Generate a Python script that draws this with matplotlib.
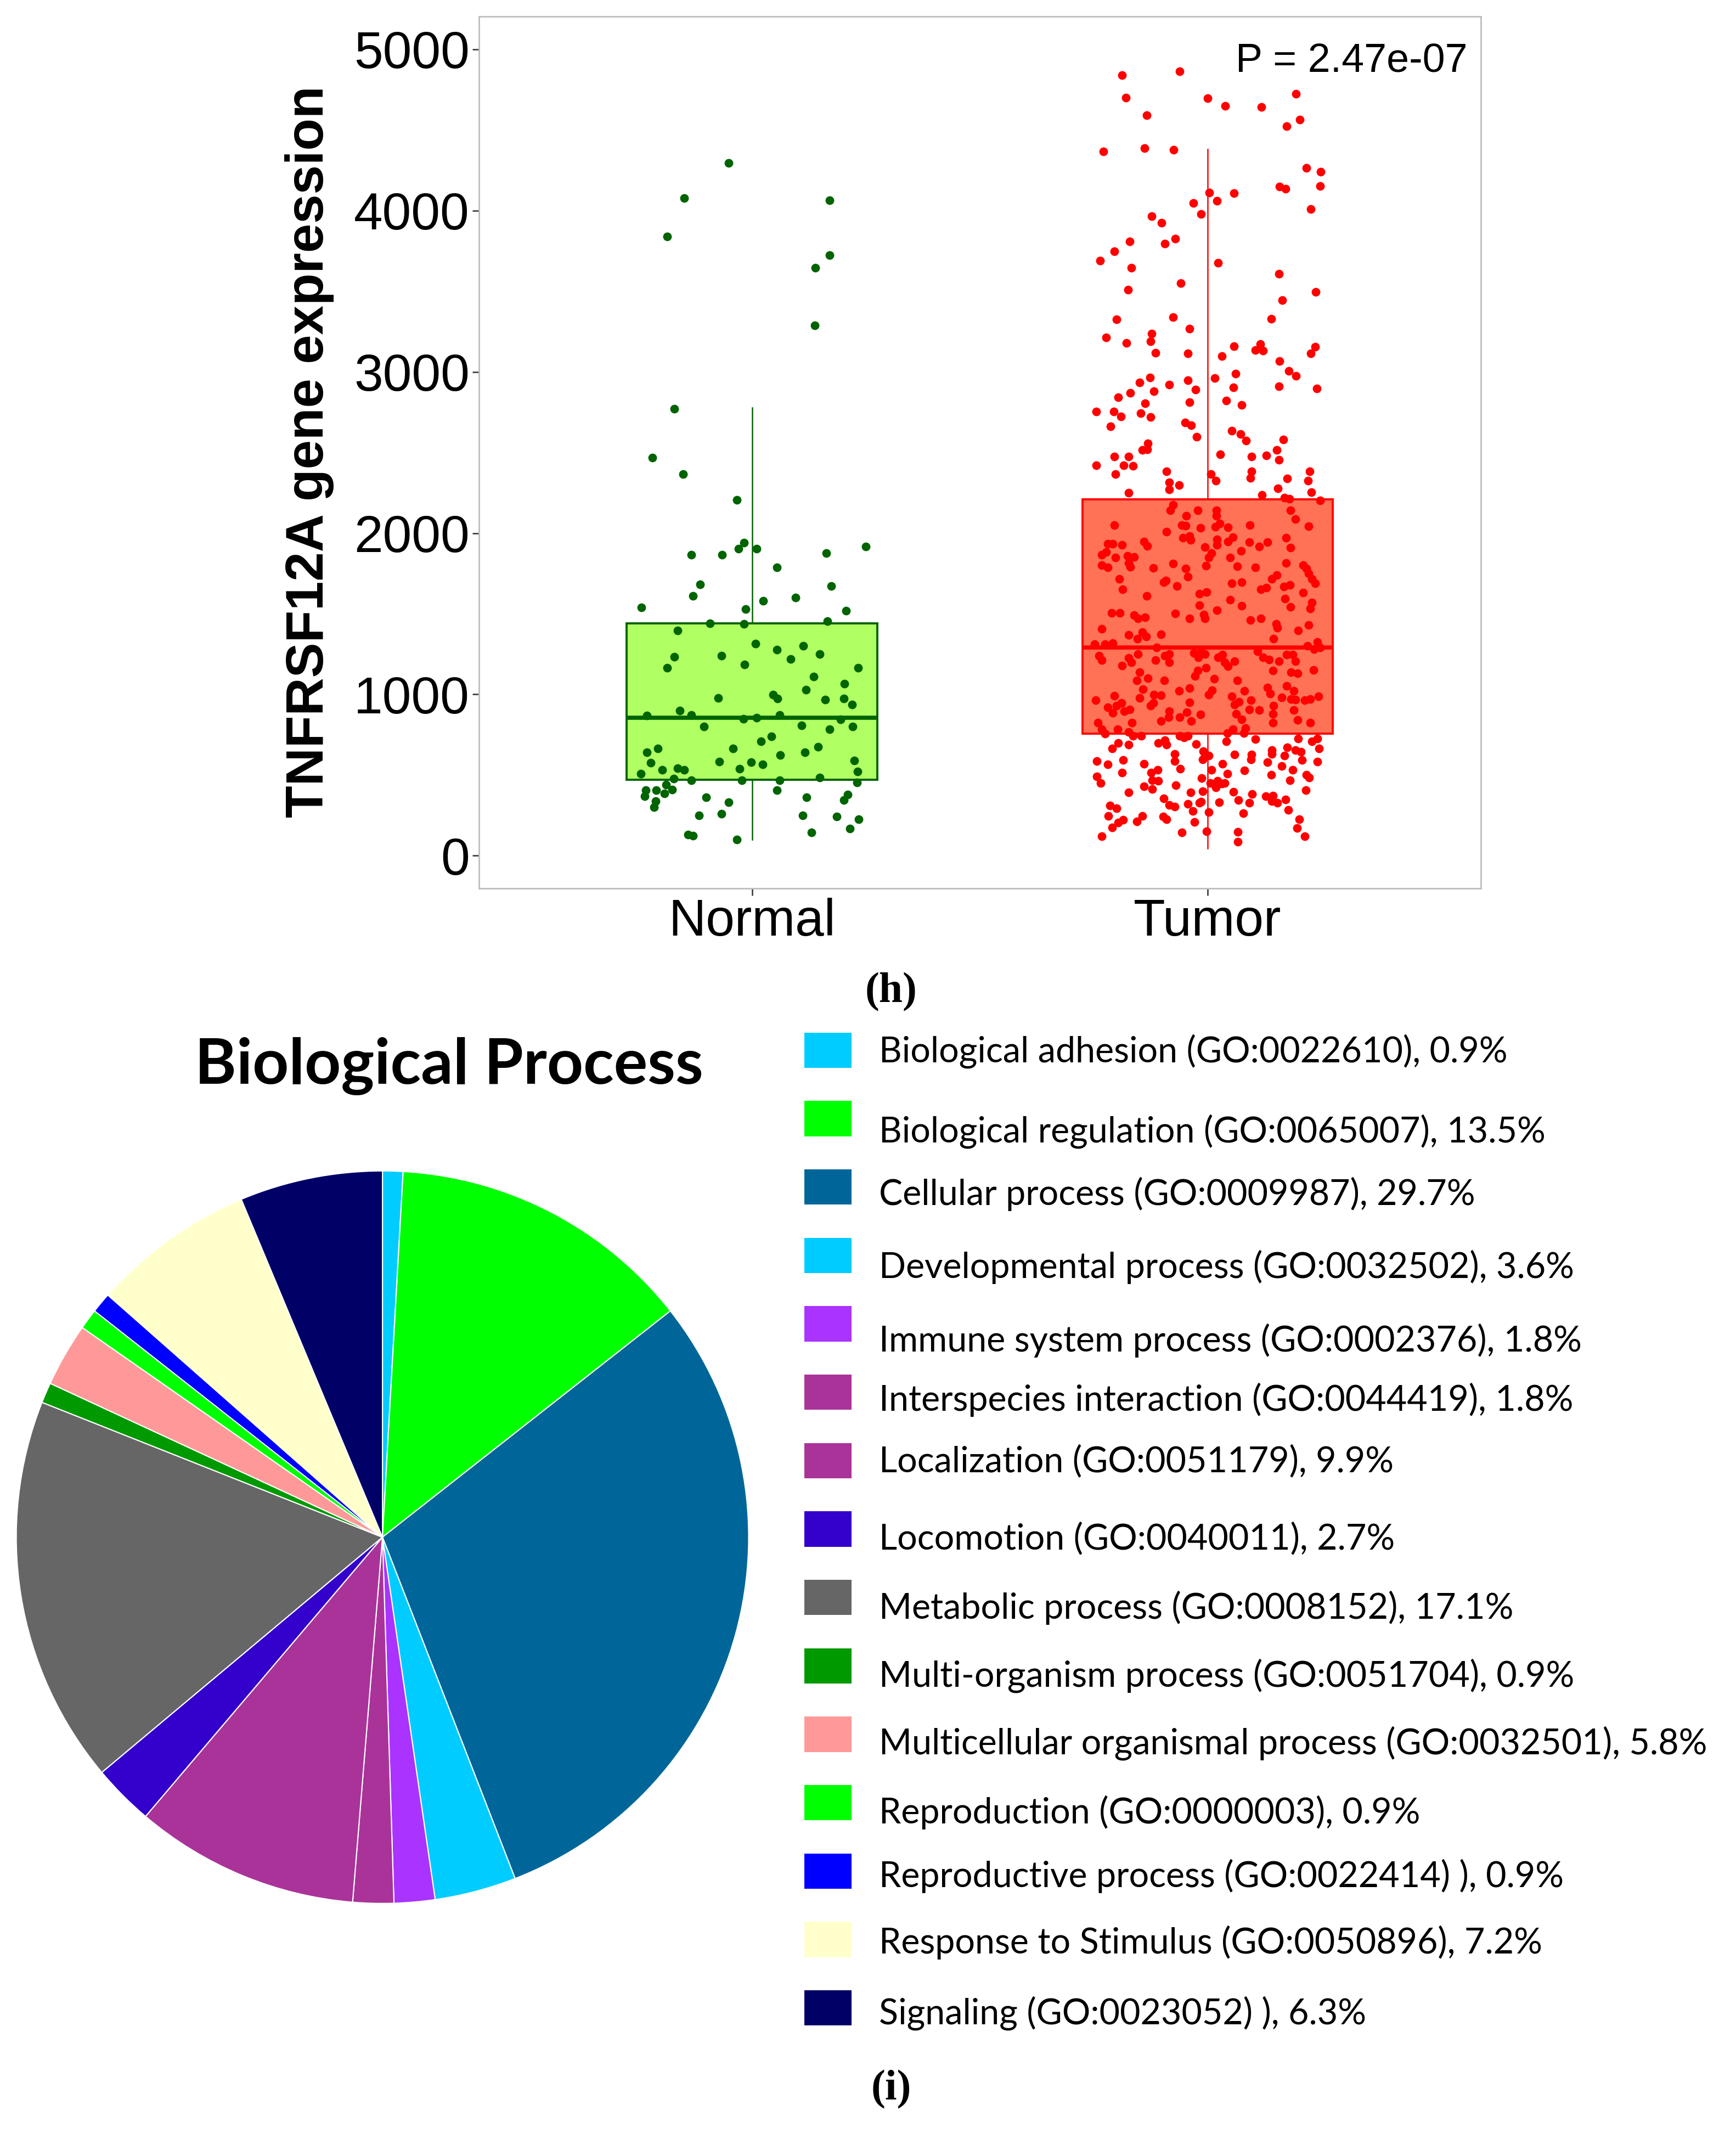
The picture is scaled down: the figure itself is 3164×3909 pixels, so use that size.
import numpy as np
import matplotlib.pyplot as plt
from matplotlib.patches import Rectangle

plt.rcParams['font.family'] = ['Liberation Sans', 'DejaVu Sans']

# ---------------- panel (h): boxplot + jittered points ----------------
groups = ["Normal", "Tumor"]
box_q1 = [469, 756]
box_med = [855, 1290]
box_q3 = [1441, 2210]
box_lo = [101, 45]
box_hi = [2778, 4380]
p_label = "P = 2.47e-07"

normal_y = [4294, 4076, 4065, 3841, 3722, 3647, 3289, 2772, 2468, 2367,
            2205, 1939, 1904, 1902, 1867, 1865, 1876, 1917, 1789, 1682,
            1670, 1611, 1579, 1601, 1540, 1529, 1517, 1441, 1438, 1453,
            1396, 1316, 1276, 1302, 1233, 1240, 1220, 1249, 1164, 1184,
            1165, 1109, 1066, 1028, 976, 998, 973, 966, 973, 936,
            899, 870, 872, 847, 856, 872, 846, 800, 807, 784,
            800, 738, 710, 642, 664, 664, 675, 641, 623, 576,
            583, 578, 564, 589, 508, 530, 543, 533, 539, 521,
            477, 468, 468, 468, 485, 453, 441, 406, 406, 385,
            409, 370, 338, 299, 363, 332, 406, 361, 379, 344,
            249, 258, 249, 242, 227, 169, 143, 129, 123, 100]
normal_jitter = [-0.052, -0.149, 0.170, -0.186, 0.170, 0.139, 0.137, -0.171, -0.219, -0.151,
                 -0.034, -0.018, -0.030, 0.010, -0.134, -0.066, 0.163, 0.249, 0.055, -0.114,
                 0.174, -0.130, 0.024, 0.096, -0.243, -0.014, 0.206, -0.092, -0.018, 0.165,
                 -0.163, 0.007, 0.055, 0.112, -0.171, -0.067, 0.085, 0.149, -0.186, -0.017,
                 0.233, 0.135, 0.203, 0.118, -0.074, 0.046, 0.056, 0.161, 0.202, 0.219,
                 -0.159, -0.231, -0.134, -0.019, 0.010, 0.061, 0.194, -0.106, 0.109, 0.170,
                 0.221, 0.042, 0.019, -0.231, -0.207, -0.042, 0.145, 0.116, 0.062, -0.223,
                 -0.072, -0.002, 0.023, 0.224, -0.244, -0.197, -0.164, -0.149, -0.027, 0.231,
                 -0.172, -0.134, -0.022, 0.061, 0.148, 0.230, -0.189, -0.233, -0.211, -0.193,
                 -0.175, -0.236, -0.212, -0.215, -0.101, -0.051, 0.054, 0.119, 0.210, 0.202,
                 -0.116, -0.067, 0.111, 0.186, 0.234, 0.215, 0.130, -0.141, -0.130, -0.033]

tumor_y = [
    # upper tail
    4841, 4865, 4700, 4697, 4650, 4644, 4725, 4591, 4563, 4523,
    4366, 4386, 4378, 4263, 4241, 4150, 4134, 4153, 4112, 4107,
    4061, 4047, 4008, 3980, 3965, 3923, 3807, 3824, 3796, 3746,
    3690, 3677, 3644, 3607, 3551, 3510, 3497, 3446,
    3324, 3338, 3330, 3214, 3180, 3237, 3190, 3267, 3117, 3115,
    3158, 3174, 3136, 3130, 3156, 3113, 3096, 3066, 3004, 2976,
    2987, 2962, 2965, 2935, 2921, 2949, 2889, 2909, 2898, 2904,
    2868, 2879, 2842, 2806, 2813, 2821, 2795, 2755, 2755, 2722,
    2745, 2719, 2686, 2670, 2662, 2598, 2633, 2615, 2575, 2579,
    2516, 2556, 2514, 2520, 2474, 2474, 2489, 2474, 2483, 2453,
    2419, 2420, 2417, 2367, 2384, 2382, 2342, 2365, 2326, 2384,
    2326, 2339, 2316, 2299, 2269, 2250, 2278, 2254, 2238, 2221,
    2213, 2202,
    # inside the box, upper half
    2176, 2140, 2142, 2142, 2108, 2106, 2142, 2088, 2049, 2049,
    2046, 2031, 2038, 2059, 2036, 2051, 2041, 2010, 1971, 1980,
    1956, 1962, 1976, 1948, 1971, 1934, 1932, 1928, 1946, 1920,
    1914, 1926, 1943, 1915, 1943, 1909, 1889, 1864, 1883, 1847,
    1858, 1853, 1877, 1847, 1847,
    1802, 1787, 1813, 1791, 1785, 1810, 1779, 1731, 1796, 1793,
    1787, 1816, 1802, 1779, 1751, 1717, 1687, 1717, 1650, 1695,
    1704, 1670, 1611, 1625, 1635, 1687, 1695, 1650, 1661, 1717,
    1738, 1667, 1678, 1630, 1594, 1543, 1571, 1532, 1586, 1549,
    1551, 1521, 1495, 1472, 1472, 1501, 1504, 1504, 1490, 1470,
    1479, 1461, 1472, 1436, 1414, 1430, 1397, 1405, 1369, 1344,
    1385, 1357, 1371, 1344, 1312, 1310, 1318, 1292, 1301, 1326,
    1279, 1292,
    # inside the box, lower half
    1239, 1213, 1250, 1225, 1198, 1177, 1213, 1239, 1250, 1200,
    1256, 1262, 1250, 1228, 1228, 1245, 1200, 1174, 1205, 1267,
    1228, 1217, 1205, 1245, 1245, 1205, 1149, 1138, 1132, 1152,
    1138, 1085, 1101, 1087, 1149, 1115, 1164, 1096, 1085, 1031,
    992, 963, 977, 999, 995, 1020, 1037, 1025, 999, 988,
    1022, 1042, 1003, 1053, 1020, 980, 969, 966, 963, 969,
    988, 921, 930, 947, 885, 896, 905, 930, 947, 950,
    935, 952, 963, 907, 902, 930, 879, 902, 896, 860,
    860, 890, 874, 879, 845, 823, 823, 834, 834, 840,
    823, 823,
    # lower tail
    783, 755, 783, 767, 744, 744, 699, 665, 688, 699,
    716, 688, 744, 733, 744, 693, 761, 783, 710, 761,
    789, 722, 727, 710, 727, 665, 587, 564, 594, 513,
    491, 451, 570, 513, 530, 468, 463, 429, 412, 392,
    632, 587, 538, 435, 648, 620, 598, 632, 530, 480,
    451, 463, 446, 451, 423, 570, 508, 628, 626, 598,
    527, 581, 654, 632, 620, 671, 654, 643, 592, 556,
    530, 583, 502, 468, 500, 485, 406, 392, 399, 356,
    313, 303, 320, 328, 333, 331, 395, 345, 381, 328,
    367, 373, 339, 328, 347, 283, 311, 294, 246, 204,
    221, 212, 246, 243, 226, 275, 271, 210, 264, 226,
    170, 176, 119, 145, 150, 148, 86, 119]
tumor_jitter = [
    -0.188, -0.062, -0.180, 0.000, 0.038, 0.118, 0.194, -0.134, 0.202, 0.173,
    -0.229, -0.139, -0.075, 0.217, 0.248, 0.158, 0.171, 0.247, 0.004, 0.058,
    0.020, -0.031, 0.226, -0.014, -0.123, -0.101, -0.171, -0.071, -0.094, -0.205,
    -0.236, 0.023, -0.168, 0.156, -0.059, -0.175, 0.237, 0.164,
    -0.200, -0.076, 0.140, -0.223, -0.178, -0.123, -0.125, -0.040, -0.114, -0.044,
    0.058, 0.115, 0.105, 0.121, 0.236, 0.226, 0.031, 0.158, 0.178, 0.194,
    0.061, 0.016, -0.127, -0.149, -0.084, -0.043, -0.027, 0.156, 0.239, 0.056,
    -0.170, -0.118, -0.196, -0.137, -0.040, 0.041, 0.074, -0.244, -0.206, -0.191,
    -0.147, -0.125, -0.049, -0.036, -0.213, -0.024, 0.053, 0.072, 0.084, 0.166,
    0.152, -0.131, -0.143, -0.132, -0.205, -0.174, 0.027, 0.096, 0.129, 0.156,
    -0.245, -0.184, -0.164, -0.203, -0.090, 0.096, 0.094, 0.007, 0.018, 0.224,
    0.220, 0.174, -0.084, -0.063, -0.084, -0.173, 0.154, 0.228, 0.119, 0.168,
    0.179, 0.247,
    -0.076, -0.082, -0.022, 0.019, 0.019, -0.047, 0.182, 0.193, -0.205, -0.057,
    -0.048, -0.016, 0.017, 0.026, 0.045, 0.093, 0.221, -0.091, -0.054, -0.040,
    -0.038, 0.020, 0.055, 0.044, 0.172, -0.219, -0.209, -0.188, -0.140, -0.133,
    -0.006, 0.020, 0.091, 0.113, 0.131, 0.182, 0.073, -0.233, -0.223, -0.203,
    -0.176, -0.161, 0.008, 0.002, 0.049,
    -0.233, -0.219, -0.174, -0.170, -0.119, -0.076, -0.048, -0.043, -0.004, 0.065,
    0.105, 0.172, 0.209, 0.217, 0.221, 0.229, 0.236, -0.194, -0.187, -0.097,
    -0.092, -0.068, -0.134, -0.018, -0.003, 0.053, 0.075, 0.117, 0.129, 0.141,
    0.152, 0.167, 0.181, 0.209, 0.170, 0.182, 0.229, 0.225, 0.049, 0.075,
    -0.018, 0.020, -0.008, -0.006, -0.040, -0.071, -0.211, -0.193, -0.162, -0.153,
    -0.137, 0.094, 0.117, 0.151, 0.153, 0.221, 0.199, -0.233, -0.173, -0.154,
    -0.144, -0.135, -0.103, 0.144, -0.248, -0.225, -0.209, -0.112, 0.219, 0.241,
    0.233, 0.247,
    -0.239, -0.232, -0.153, -0.173, -0.168, -0.188, -0.114, -0.094, -0.084, -0.084,
    -0.030, -0.014, -0.006, -0.020, 0.023, 0.033, 0.037, 0.045, 0.059, 0.109,
    0.121, 0.135, 0.157, 0.173, 0.187, 0.193, 0.143, 0.183, 0.197, 0.232,
    -0.150, -0.156, -0.131, -0.095, -0.022, -0.028, -0.004, 0.014, 0.065, -0.142,
    -0.205, -0.246, -0.150, -0.118, -0.102, -0.063, -0.040, 0.010, 0.002, 0.053,
    0.080, 0.131, 0.137, 0.173, 0.189, 0.163, 0.183, 0.192, 0.213, 0.225,
    0.243, -0.219, -0.200, -0.189, -0.209, -0.183, -0.171, -0.125, -0.119, -0.040,
    0.059, 0.069, 0.095, 0.091, 0.113, 0.145, 0.143, 0.189, -0.084, -0.086,
    -0.062, -0.046, -0.016, 0.062, 0.075, -0.241, -0.166, -0.102, -0.036, 0.197,
    0.225, 0.143,
    -0.233, -0.225, -0.198, -0.174, -0.164, -0.146, -0.196, -0.210, -0.174, -0.108,
    -0.094, -0.090, -0.062, -0.052, -0.044, -0.026, 0.043, 0.055, 0.041, 0.079,
    0.083, 0.105, 0.199, 0.229, 0.241, 0.244, -0.243, -0.219, -0.186, -0.188,
    -0.243, -0.235, -0.140, -0.124, -0.110, -0.122, -0.108, -0.140, -0.122, -0.174,
    -0.072, -0.072, -0.060, -0.070, -0.010, 0.002, -0.011, -0.006, 0.008, -0.013,
    0.006, 0.022, 0.031, 0.037, 0.018, 0.033, 0.043, 0.059, 0.096, 0.095,
    0.081, 0.131, 0.141, 0.141, 0.169, 0.175, 0.193, 0.205, 0.207, 0.163,
    0.187, 0.241, 0.140, 0.180, 0.217, 0.223, 0.216, -0.038, -0.011, -0.097,
    -0.084, -0.072, -0.044, -0.018, -0.014, 0.025, 0.057, 0.067, 0.097, 0.091,
    0.127, 0.143, 0.141, 0.153, 0.171, 0.177, -0.214, -0.200, -0.218, -0.197,
    -0.185, -0.155, -0.143, -0.098, -0.090, -0.033, 0.002, -0.029, 0.078, 0.201,
    0.196, -0.210, -0.233, -0.057, -0.003, 0.066, 0.066, 0.213]

# ---------------- panel (i): GO biological process pie ----------------
go_labels = [
    "Biological adhesion (GO:0022610), 0.9%",
    "Biological regulation (GO:0065007), 13.5%",
    "Cellular process (GO:0009987), 29.7%",
    "Developmental process (GO:0032502), 3.6%",
    "Immune system process (GO:0002376), 1.8%",
    "Interspecies interaction (GO:0044419), 1.8%",
    "Localization (GO:0051179), 9.9%",
    "Locomotion (GO:0040011), 2.7%",
    "Metabolic process (GO:0008152), 17.1%",
    "Multi-organism process (GO:0051704), 0.9%",
    "Multicellular organismal process (GO:0032501), 5.8%",
    "Reproduction (GO:0000003), 0.9%",
    "Reproductive process (GO:0022414) ), 0.9%",
    "Response to Stimulus (GO:0050896), 7.2%",
    "Signaling (GO:0023052) ), 6.3%",
]
# slice sizes as drawn in the pie
go_share = [0.9, 13.5, 29.7, 3.6, 1.8, 1.8, 9.9, 2.7, 17.1, 0.9, 2.8, 0.9, 0.9, 7.2, 6.3]
go_colors = ["#00CCFF", "#00FF00", "#006699", "#00CCFF", "#AA33FF",
             "#AA3399", "#AA3399", "#3300CC", "#666666", "#009900",
             "#FF9999", "#00FF00", "#0000FF", "#FFFFCC", "#000066"]

W, H = 1280, 1581  # layout grid used for placing things
fig = plt.figure(figsize=(31.64, 39.09), dpi=100)

ax = fig.add_axes([353 / W, 1 - 655 / H, (1092 - 353) / W, (655 - 12) / H])
stats = []
for i in range(2):
    stats.append(dict(med=box_med[i], q1=box_q1[i], q3=box_q3[i],
                      whislo=box_lo[i], whishi=box_hi[i], fliers=[]))
fills = ["#B0FF63", "#FF7256"]
edges = ["#006400", "#FF0000"]
for i in range(2):
    ax.bxp([stats[i]], positions=[i + 1], widths=0.55, patch_artist=True,
           showcaps=False, showfliers=False,
           boxprops=dict(facecolor=fills[i], edgecolor=edges[i], linewidth=2.8),
           whiskerprops=dict(color=edges[i], linewidth=1.8),
           medianprops=dict(color=edges[i], linewidth=5.5))

ax.scatter(1 + np.array(normal_jitter), normal_y, s=130, color="#006400",
           linewidths=0, zorder=4)
ax.scatter(2 + np.array(tumor_jitter), tumor_y, s=130, color="#FF0000",
           linewidths=0, zorder=4)

ax.set_xlim(0.4, 2.6)
ax.set_ylim(-205, 5205)
ax.set_xticks([1, 2])
ax.set_xticklabels(groups)
ax.set_yticks([0, 1000, 2000, 3000, 4000, 5000])
ax.tick_params(axis="both", length=9, width=1.8, color="#333333",
               labelsize=68, pad=3)
for s in ax.spines.values():
    s.set_color("#BDBDBD")
    s.set_linewidth(2)
ax.text(2.57, 4857, p_label, ha="right", va="baseline", fontsize=53)

# overlay for figure-level text and the custom legend
lay = fig.add_axes([0, 0, 1, 1], zorder=-1)
lay.set_xlim(0, W)
lay.set_ylim(H, 0)
lay.axis("off")
lay.text(228, 333, "TNFRSF12A gene expression", rotation=90, ha="center",
         va="center", fontsize=69, fontweight="bold")
lay.text(657, 731, "(h)", ha="center", va="center", fontsize=56,
         fontweight="bold", family="Liberation Serif")
lay.text(657, 1540, "(i)", ha="center", va="center", fontsize=56,
         fontweight="bold", family="Liberation Serif")
lay.text(331, 786, "Biological Process", ha="center", va="center",
         fontsize=83, fontweight="bold", family="Lato")

pie_ax = fig.add_axes([2 / W, 1 - 1413 / H, 560 / W, 560 / H])
pie_ax.pie(go_share, colors=go_colors, startangle=90, counterclock=False,
           radius=270 / 280, wedgeprops=dict(edgecolor="white", linewidth=1.5))
pie_ax.set_xlim(-1, 1)
pie_ax.set_ylim(-1, 1)
pie_ax.set_aspect("equal")
pie_ax.axis("off")

# legend rows
square_y = np.linspace(774, 1480, len(go_labels))
text_y = [783, 842, 888, 942, 996, 1040, 1085, 1142, 1193, 1243,
          1293, 1344, 1391, 1440, 1492]
leg = fig.add_axes([0, 0, 1, 1])
leg.set_xlim(0, W)
leg.set_ylim(H, 0)
leg.axis("off")
for k, lab in enumerate(go_labels):
    leg.add_patch(Rectangle((593, square_y[k] - 13), 35, 26,
                            facecolor=go_colors[k], edgecolor="none"))
    leg.text(648, text_y[k], lab, ha="left", va="baseline", fontsize=46.5,
             family="Lato")

fig.savefig("out.png", dpi=100)
